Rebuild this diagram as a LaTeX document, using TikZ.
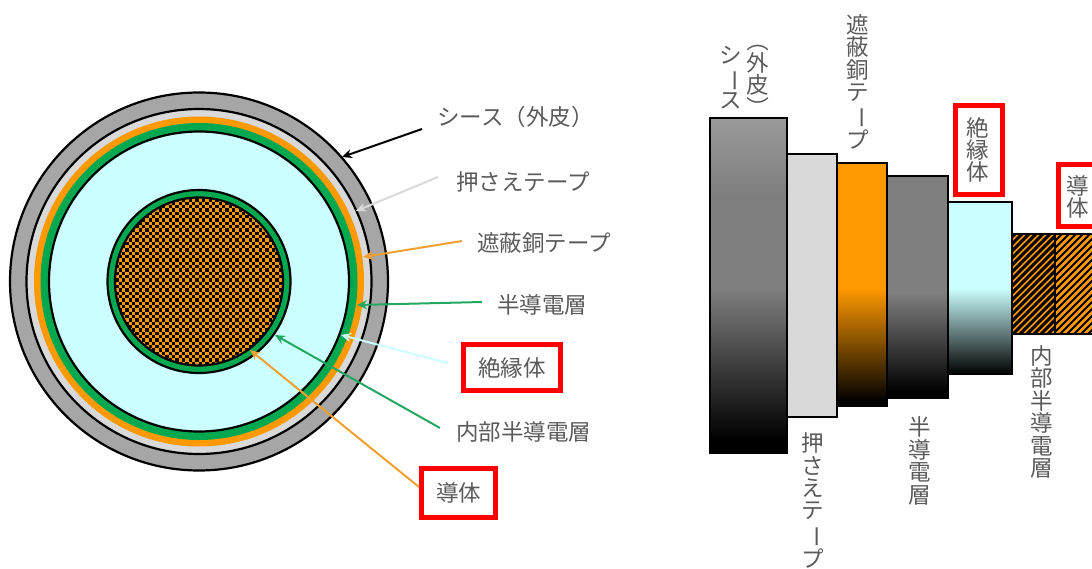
\documentclass[tikz,border=0pt]{standalone}
\usepackage{fontspec}
\setmainfont{Noto Sans CJK JP}
\usetikzlibrary{arrows.meta}
\definecolor{txt}{HTML}{5A5A5A}
\definecolor{sheath}{HTML}{A6A6A6}
\definecolor{sheathtop}{HTML}{999999}
\definecolor{tapeg}{HTML}{D9D9D9}
\definecolor{copper}{HTML}{FF9900}
\definecolor{semi}{HTML}{00A84F}
\definecolor{ins}{HTML}{CCFFFF}
\definecolor{arrorange}{HTML}{F0A030}
\definecolor{arrgreen}{HTML}{22A860}
\definecolor{semigray}{HTML}{7F7F7F}
\pgfdeclareverticalshading{gradsheath}{100bp}{color(0bp)=(black);color(27bp)=(black);color(49.6bp)=(semigray);color(63.5bp)=(semigray);color(75bp)=(sheathtop);color(100bp)=(sheathtop)}
\pgfdeclareverticalshading{gradcopper}{100bp}{color(0bp)=(black);color(26bp)=(black);color(49.3bp)=(copper);color(100bp)=(copper)}
\pgfdeclareverticalshading{gradsemi}{100bp}{color(0bp)=(black);color(26.4bp)=(black);color(48.7bp)=(semigray);color(100bp)=(semigray)}
\pgfdeclareverticalshading{gradins}{100bp}{color(0bp)=(black);color(25bp)=(black);color(50bp)=(ins);color(100bp)=(ins)}
\newcommand{\rch}[1]{\rotatebox[origin=c]{-90}{#1}}
\tikzset{
  ring/.style={draw=black,line width=2.2pt},
  lbl/.style={font=\fontsize{22.5}{22.4}\selectfont,text=txt,inner sep=0pt},
  vlbl/.style={lbl,align=center},
  redbox/.style={draw=red,line width=5pt,fill=white,inner sep=0pt},
  ptr/.style={line width=2pt,-{Stealth[length=10pt,width=9pt]}},
  block/.style={draw=black,line width=2.2pt},
}
\begin{document}
\begin{tikzpicture}[x=1pt,y=-1pt]
\useasboundingbox (0,0) rectangle (1092,569);
\clip (0,0) rectangle (1092,569);
% ---- cross section
\coordinate (c) at (199,281.5);
\draw[ring,fill=sheath] (c) circle (189);
\draw[ring,fill=tapeg] (c) circle (172.5);
\fill[copper] (c) circle (165);
\fill[semi] (c) circle (158.5);
\draw[ring,fill=ins] (c) circle (150);
\draw[ring,fill=semi] (c) circle (91.5);
\begin{scope}
  \clip (c) circle (84);
  \fill[copper] (c) circle (85);
  \foreach \i in {0,...,52}{
    \foreach \j in {0,...,52}{
      \pgfmathparse{int(mod(\i+\j,2))}
      \ifnum\pgfmathresult=0
        \fill[black] (112+\i*3.33,195+\j*3.33) rectangle ++(3.33,3.33);
      \fi
    }
  }
\end{scope}
\draw[black,line width=2.2pt] (c) circle (84);
% ---- side view
\shade[shading=gradsheath] (710,118) rectangle (787,453);
\draw[block] (710,118) rectangle (787,453);
\draw[block,fill=tapeg] (787,154) rectangle (837,417);
\shade[shading=gradcopper] (837,163) rectangle (887,406);
\draw[block] (837,163) rectangle (887,406);
\shade[shading=gradsemi] (887,176) rectangle (948,398);
\draw[block] (887,176) rectangle (948,398);
\shade[shading=gradins] (948,202) rectangle (1012,374);
\draw[block] (948,202) rectangle (1012,374);
\begin{scope}
  \clip (1012,234) rectangle (1055,334);
  \fill[copper] (1012,234) rectangle (1055,334);
  \foreach \k in {0,...,30}{
    \draw[black,line width=3pt] (895+\k*7,340) -- ++(110,-110);
  }
\end{scope}
\begin{scope}
  \clip (1055,234) rectangle (1100,334);
  \fill[copper] (1055,234) rectangle (1100,334);
  \foreach \k in {0,...,30}{
    \draw[black,line width=2pt] (935+\k*7,340) -- ++(110,-110);
  }
\end{scope}
\draw[block] (1012,234) rectangle (1055,334);
\draw[block] (1055,234) rectangle (1100,334);
% ---- left labels
\node[lbl,anchor=west] (l1) at (437,117) {シース（外皮）};
\node[lbl,anchor=west] (l2) at (456,182) {押さえテープ};
\node[lbl,anchor=west] (l3) at (477,243) {遮蔽銅テープ};
\node[lbl,anchor=west] (l4) at (497,305) {半導電層};
\node[redbox,minimum width=97pt,minimum height=46pt] (l5) at (512,367.5) {\fontsize{22.5}{22}\selectfont\textcolor{txt}{絶縁体}};
\node[lbl,anchor=west] (l6) at (456,432) {内部半導電層};
\node[redbox,minimum width=74pt,minimum height=49pt] (l7) at (458.5,493) {\fontsize{22.5}{22}\selectfont\textcolor{txt}{導体}};
% ---- arrow ends
\coordinate (t1) at (342,157); \coordinate (s1) at (422,129);
\coordinate (t2) at (356,211); \coordinate (s2) at (438,177);
\coordinate (t3) at (363,257); \coordinate (s3) at (462,241);
\coordinate (t4) at (357,305); \coordinate (s4) at (482,302);
\coordinate (t5) at (341,335); \coordinate (s5) at (448,363);
\coordinate (t6) at (275,335); \coordinate (s6) at (440,428);
\coordinate (t7) at (250,350); \coordinate (s7) at (419,487);
\draw[ptr,black] (s1) -- (t1);
\draw[ptr,tapeg] (s2) -- (t2);
\draw[ptr,arrorange] (s3) -- (t3);
\draw[ptr,arrgreen] (s4) -- (t4);
\draw[ptr,ins] (s5) -- (t5);
\draw[ptr,arrgreen] (s6) -- (t6);
\draw[ptr,arrorange] (s7) -- (t7);
% ---- vertical labels
\node[vlbl] (v1) at (731,77.5) {シ\\\rch{ー}\\ス};
\node[vlbl] (v2) at (758,74) {\rch{（}\\外\\皮\\\rch{）}};
\node[vlbl] (v3) at (858,82) {遮\\蔽\\銅\\テ\\\rch{ー}\\プ};
\node[vlbl] (v4) at (813,500.5) {押\\さ\\え\\テ\\\rch{ー}\\プ};
\node[vlbl] (v5) at (920,461) {半\\導\\電\\層};
\node[vlbl] (v6) at (1042,412) {内\\部\\半\\導\\電\\層};
\node[redbox,minimum width=47pt,minimum height=89pt] (v7) at (979,150) {};
\node[vlbl] (v7t) at (978,150) {絶\\縁\\体};
\node[redbox,minimum width=60pt,minimum height=62pt] (v8) at (1088,195.5) {};
\node[vlbl] (v8t) at (1078,197) {導\\体};
\end{tikzpicture}
\end{document}
